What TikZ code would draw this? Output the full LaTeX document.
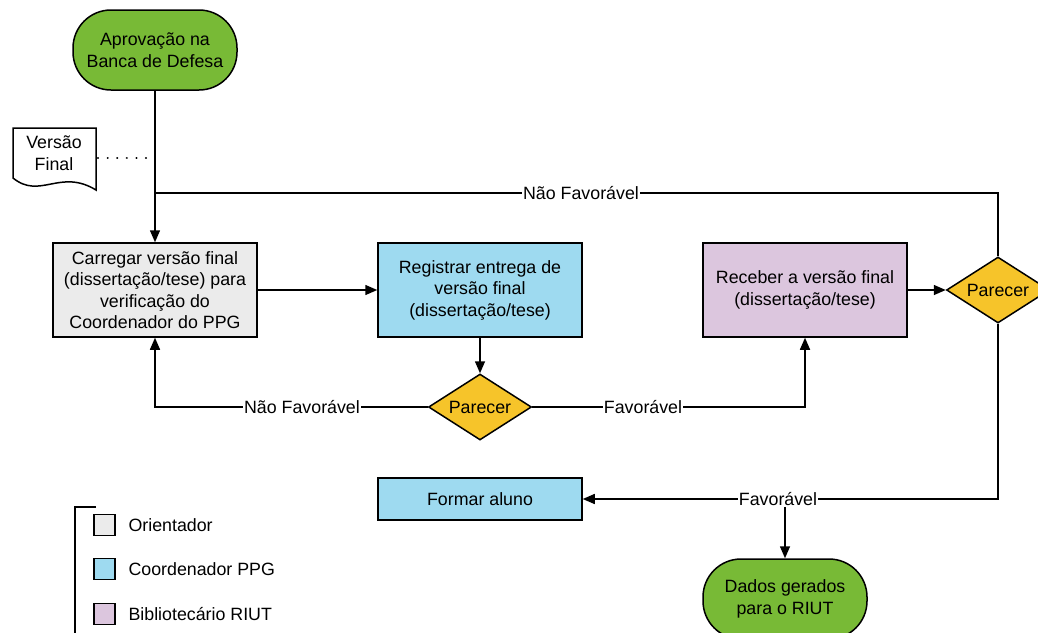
\documentclass[tikz,border=0pt]{standalone}
\usepackage{fontspec}
\setmainfont{Liberation Sans}
\usetikzlibrary{arrows.meta,shapes.geometric}
\definecolor{termgreen}{RGB}{120,186,54}
\definecolor{orgray}{RGB}{235,235,235}
\definecolor{coblue}{RGB}{158,218,240}
\definecolor{bililac}{RGB}{220,198,222}
\definecolor{decyellow}{RGB}{246,196,42}
\tikzset{
  txt/.style={font=\fontsize{17.8}{21.5}\selectfont, align=center, text=black},
  base/.style={txt, draw, line width=1.5pt},
  proc/.style={base, minimum width=204pt, minimum height=94pt, inner sep=0pt},
  term/.style={base, fill=termgreen, minimum width=164pt, minimum height=80pt, rounded corners=38pt, inner sep=0pt},
  decis/.style={base, diamond, fill=decyellow, minimum width=103pt, minimum height=66pt, inner sep=0pt, aspect=1.56},
  lbl/.style={txt, fill=white, inner sep=1pt},
  wire/.style={line width=1.5pt},
  conn/.style={wire, -{Triangle[length=12pt,width=10pt]}},
  legsq/.style={draw, line width=1.5pt, minimum size=21pt, inner sep=0pt},
  legtx/.style={txt, anchor=west}
}
\begin{document}
\begin{tikzpicture}[x=1pt,y=-1pt]
\useasboundingbox (0,0) rectangle (1038,632);

% nodes
\node[term] (start) at (155,50) {Aprovação na\\Banca de Defesa};
\node[proc, fill=orgray] (box1) at (155,290) {Carregar versão final\\(dissertação/tese) para\\verificação do\\Coordenador do PPG};
\node[proc, fill=coblue] (box2) at (480,290) {Registrar entrega de\\versão final\\(dissertação/tese)};
\node[proc, fill=bililac] (box3) at (805,290) {Receber a versão final\\(dissertação/tese)};
\node[decis] (d1) at (480,407) {Parecer};
\node[decis] (d2) at (998,290) {Parecer};
\node[proc, fill=coblue, minimum height=42pt] (formar) at (480,499) {Formar aluno};
\node[term] (dados) at (785,599) {Dados gerados\\para o RIUT};

% document shape
\draw[line width=1.5pt, fill=white] (13,128) -- (96,128) -- (96,190)
  .. controls (60,168) and (40,200) .. (13,178) -- cycle;
\node[txt] (doc) at (54,153) {Versão\\Final};
\coordinate (dotend) at (155,158);
\coordinate (jn) at (155,193);

% labels
\node[lbl] (nf1) at (581,193) {Não Favorável};
\node[lbl] (nf2) at (302,407) {Não Favorável};
\node[lbl] (fav1) at (643,407) {Favorável};
\node[lbl] (fav2) at (778,499) {Favorável};

% connectors
\draw[conn] (start) -- (box1);
\draw[line width=2.2pt, line cap=round, dash pattern=on 0.1pt off 9.5pt] (98,158) -- (dotend);
\draw[wire] (d2.north) |- (nf1.east);
\draw[wire] (nf1.west) -- (jn);
\draw[conn] (box1.east) -- (box2.west);
\draw[conn] (box2.south) -- (d1.north);
\draw[wire] (d1.west) -- (nf2.east);
\draw[conn] (nf2.west) -| (box1.south);
\draw[wire] (d1.east) -- (fav1.west);
\draw[conn] (fav1.east) -| (box3.south);
\draw[conn] (box3.east) -- (d2.west);
\draw[wire] (d2.south) |- (fav2.east);
\draw[conn] (fav2.west) -- (formar.east);
\draw[conn] (fav2.south -| dados.north) -- (dados.north);

% legend
\draw[wire] (96,507) -- (75,507) -- (75,640);
\node[legsq, fill=orgray] (l1) at (104.5,525) {};
\node[legsq, fill=coblue] (l2) at (104.5,569) {};
\node[legsq, fill=bililac] (l3) at (104.5,614) {};
\node[legtx] (t1) at (125,525) {Orientador};
\node[legtx] (t2) at (125,569) {Coordenador PPG};
\node[legtx] (t3) at (125,614) {Bibliotecário RIUT};
\end{tikzpicture}
\end{document}
